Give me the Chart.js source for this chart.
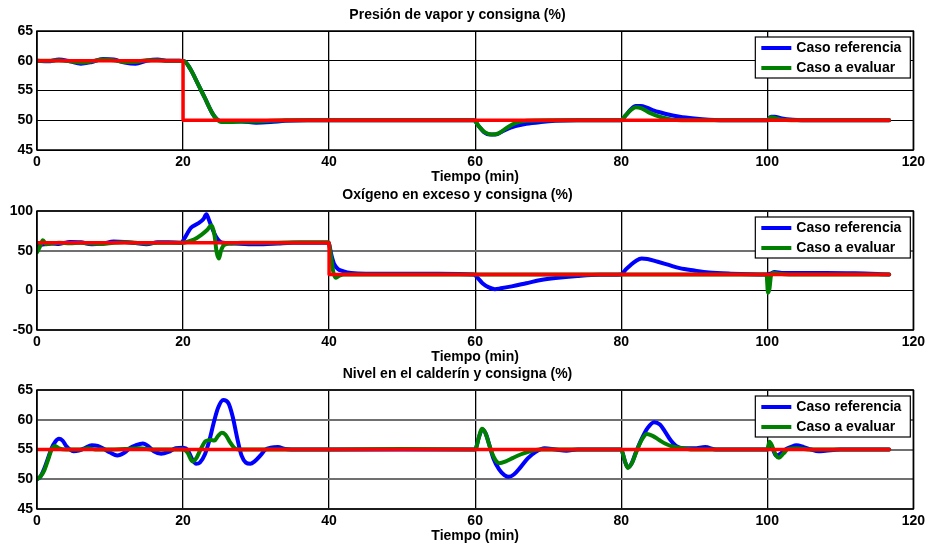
<!DOCTYPE html>
<html><head><meta charset="utf-8">
<script src="https://cdn.jsdelivr.net/npm/chart.js@4.4.0/dist/chart.umd.min.js"></script>
<style>
html,body{margin:0;padding:0;background:#fff;}
#wrap{position:relative;width:929px;height:544px;overflow:hidden;background:#fff;}
canvas{position:absolute;left:0;}
</style></head><body>
<div id="wrap">
<canvas id="c1" width="929" height="195" style="top:0px"></canvas>
<canvas id="c2" width="929" height="195" style="top:180px"></canvas>
<canvas id="c3" width="929" height="195" style="top:359px"></canvas>
</div>
<script>
// ---------- tick labels ----------
const xTicks = [0, 20, 40, 60, 80, 100, 120];
const p1Ticks = [45, 50, 55, 60, 65];
const p2Ticks = [-50, 0, 50, 100];
const p3Ticks = [45, 50, 55, 60, 65];
const seriesNames = ['Caso referencia', 'Caso a evaluar'];
const xLabel = 'Tiempo (min)';
const titles = ['Presión de vapor y consigna (%)', 'Oxígeno en exceso y consigna (%)', 'Nivel en el calderín y consigna (%)'];

// ---------- Panel 1: presión de vapor ----------
const p1SetT = [0, 20, 20, 116.7];
const p1SetY = [60, 60, 50, 50];
const p1RefT = [0, 1.5, 3, 4.5, 6, 7.5, 9, 10.5, 12, 13.5, 15, 16.5, 18, 19.5, 20.2, 21, 22, 23, 24, 24.6, 25.3, 26.5, 28, 30, 32, 34, 37, 40, 45, 50, 55, 59.8, 60.5, 61.2, 62, 62.8, 64, 65.5, 67, 69, 71, 74, 78, 80, 80.6, 81.3, 82, 82.7, 83.5, 84.5, 86, 88, 90, 92, 95, 100, 100.5, 101, 102, 103.5, 106, 110, 116.7];
const p1RefY = [60, 59.9, 60.2, 59.9, 59.5, 59.8, 60.3, 60.2, 59.7, 59.5, 60, 60.2, 60, 60, 59.9, 58.6, 56.2, 53.7, 51.2, 50.2, 49.8, 49.8, 49.8, 49.6, 49.7, 49.9, 50, 50, 50, 50, 50, 50, 49, 48, 47.6, 47.6, 48.3, 49, 49.4, 49.7, 49.9, 50, 50, 50, 50.8, 51.8, 52.4, 52.4, 52.1, 51.6, 51.1, 50.6, 50.3, 50.1, 50, 50, 50.6, 50.6, 50.3, 50.1, 50, 50, 50];
const p1EvaT = [0, 1.5, 3, 4.5, 6, 7.5, 9, 10.5, 12, 13.5, 15, 16.5, 18, 19.5, 20.2, 21, 22, 23, 24, 24.6, 25.3, 26.5, 28, 30, 34, 40, 50, 59.8, 60.5, 61.3, 62.3, 63.2, 64.3, 65.5, 67, 70, 80, 80.6, 81.3, 82, 82.8, 84, 85.5, 87, 90, 100, 100.5, 101, 102, 105, 116.7];
const p1EvaY = [60, 60, 60.1, 59.9, 59.7, 59.9, 60.2, 60.1, 59.8, 59.8, 60.1, 60.1, 60, 60, 59.9, 58.6, 56.2, 53.7, 51.2, 50.2, 49.7, 49.7, 49.8, 49.8, 50, 50, 50, 50, 49, 48, 47.6, 47.8, 48.7, 49.5, 49.9, 50, 50, 50.8, 51.7, 52.2, 52, 51.2, 50.5, 50.1, 50, 50, 50.5, 50.4, 50.1, 50, 50];

// ---------- Panel 2: oxígeno en exceso ----------
const p2SetT = [0, 40, 40, 116.7];
const p2SetY = [60, 60, 20, 20];
const p2RefT = [0, 0.5, 1, 2, 3, 4.5, 6, 7.5, 9, 10.5, 12, 13.5, 15, 16.5, 18, 19.8, 20.1, 20.6, 21.1, 22, 22.8, 23.2, 23.5, 24, 24.5, 25, 25.5, 27, 29, 31, 33, 35, 37, 39.9, 40.3, 40.7, 41.2, 42, 43, 45, 50, 55, 59.8, 60.3, 61, 61.8, 62.7, 63.5, 65, 67, 69, 71, 74, 77, 80, 80.6, 81.3, 82, 82.8, 83.6, 85, 86.5, 88, 90, 92, 95, 100, 100.4, 101, 102, 104, 108, 112, 116.7];
const p2RefY = [55, 57, 58, 59, 58.5, 61, 60.5, 58, 59, 61.5, 61, 59.5, 58, 60.5, 60.5, 60, 64, 72, 79, 84, 90, 96, 90, 78, 68, 62, 60, 59, 58, 58, 59, 60, 60, 60, 45, 33, 27, 24, 22, 21, 21, 21, 20, 16, 9, 4, 1.5, 2.5, 5, 9, 13, 15.5, 18, 19.5, 20, 26, 32, 37, 40, 39.5, 36, 32, 28, 25, 22.5, 21, 20, 21, 23, 22, 22, 22, 21.5, 20];
const p2EvaT = [0, 0.4, 0.8, 1.3, 2, 3, 4.5, 6, 7.5, 9, 10.5, 12, 13.5, 15, 16.5, 18, 19.8, 20.5, 21.5, 22.5, 23.3, 23.9, 24.3, 24.6, 24.9, 25.2, 25.6, 26.5, 28, 32, 36, 39.9, 40.3, 40.6, 40.9, 41.3, 42, 45, 59.8, 65, 80, 90, 99.9, 100.1, 100.3, 100.5, 100.8, 101.5, 103, 116.7];
const p2EvaY = [48, 55, 63, 58, 59, 60, 59.5, 60, 59, 58.5, 60, 60.5, 60, 59, 60, 60, 60, 61, 64, 70, 76, 82, 70, 48, 40, 50, 57, 59, 60, 60, 60.5, 60.5, 40, 22, 16, 18, 20, 20, 20, 20, 20, 20, 20, -3, 2, 18, 22, 21, 20, 20];

// ---------- Panel 3: nivel en el calderín ----------
const p3SetT = [0, 116.7];
const p3SetY = [55, 55];
const p3RefT = [0, 0.5, 1, 1.5, 2, 2.5, 3, 3.5, 4, 4.5, 5, 5.7, 6.5, 7.5, 8.3, 9, 10, 11, 12, 12.8, 13.5, 14.5, 15.3, 16, 17, 18, 19, 20, 20.6, 21.2, 21.8, 22.3, 23, 23.6, 24.2, 24.8, 25.5, 26.2, 26.8, 27.4, 28, 28.6, 29.2, 29.8, 30.6, 31.3, 32, 33, 34, 36, 40, 50, 60, 60.5, 61, 61.5, 62, 62.5, 63.3, 64, 64.6, 65.3, 66.2, 67.2, 68.3, 69.5, 71, 72.5, 74, 80, 80.5, 80.9, 81.4, 82, 82.8, 83.6, 84.5, 85.3, 86, 86.8, 87.5, 88.5, 90, 91.5, 93, 96, 100, 100.3, 100.7, 101.2, 101.7, 102.5, 103.2, 104, 105, 106, 107, 108, 110, 116.7];
const p3RefY = [50, 50.5, 51.8, 53.5, 55.2, 56.3, 56.8, 56.5, 55.6, 55, 54.7, 54.8, 55.2, 55.7, 55.6, 55.2, 54.5, 54, 54.5, 55.3, 55.7, 56, 55.5, 54.7, 54.3, 54.6, 55.2, 55.3, 55, 53.5, 52.6, 52.8, 54.2, 56.5, 59.5, 62, 63.3, 62.8, 60.5, 57, 54, 52.8, 52.6, 53, 54, 55, 55.3, 55.4, 55.1, 55, 55, 55, 55, 57, 58.4, 57.5, 55.5, 53.5, 51.6, 50.7, 50.4, 50.8, 52, 53.5, 54.6, 55.2, 55, 54.8, 55, 55, 53, 52, 52.6, 54.5, 56.8, 58.6, 59.6, 59.2, 58, 56.5, 55.6, 55.2, 55.2, 55.4, 55, 55, 55, 55.8, 55.2, 54, 54.2, 55, 55.4, 55.7, 55.4, 55, 54.7, 54.8, 55, 55];
const p3EvaT = [0, 0.5, 1, 1.5, 2, 2.5, 3, 4, 5, 6, 7, 8, 10, 12, 14, 16, 18, 20, 20.6, 21.3, 21.8, 22.4, 23.1, 23.8, 24.3, 24.8, 25.3, 25.8, 26.4, 27, 27.6, 30, 40, 50, 60, 60.5, 60.9, 61.4, 62, 62.6, 63.3, 64.2, 65.2, 66.3, 67.5, 68.8, 70, 80, 80.4, 80.9, 81.5, 82.2, 82.9, 83.5, 84.3, 85.2, 86, 87, 88.5, 90, 100, 100.3, 100.7, 101.2, 101.6, 102.2, 102.9, 104, 106, 116.7];
const p3EvaY = [50, 50.5, 51.5, 53.2, 55, 55.6, 55.2, 55, 55, 55, 55.2, 55, 55, 55.1, 55.2, 55, 55, 55, 54.5, 53, 53.5, 55, 56.4, 56.6, 56.5, 57.3, 57.8, 57.5, 56.3, 55.3, 55, 55, 55, 55.1, 55, 57, 58.5, 57.8, 55.5, 53.6, 52.7, 53, 53.6, 54.2, 54.7, 55, 55, 55, 53.5, 51.9, 52.8, 55, 56.8, 57.6, 57.3, 56.6, 56, 55.5, 55.2, 55, 55, 56.3, 55.5, 54, 53.6, 54.3, 55.1, 55.2, 55, 55];

// ---------- helpers ----------
Chart.defaults.font.family = "'Liberation Sans', Arial, Helvetica, sans-serif";
Chart.defaults.color = '#000';
const pts = (t, y) => t.map((x, i) => ({x: x, y: y[i]}));
const BLUE = '#0000ff', GREEN = '#008000', RED = '#ff0000';

const framePlugin = {
  id: 'frame',
  afterDraw(chart) {
    const {ctx, chartArea: a} = chart;
    ctx.save();
    ctx.strokeStyle = '#000';
    ctx.lineWidth = 1.5;
    ctx.strokeRect(a.left, a.top, a.right - a.left, a.bottom - a.top);
    // legend box
    const bw = 155, bh = 41;
    const bx = a.right - 158, by = a.top + 6;
    ctx.fillStyle = '#fff';
    ctx.fillRect(bx, by, bw, bh);
    ctx.lineWidth = 1.2;
    ctx.strokeRect(bx, by, bw, bh);
    const items = chart.data.datasets.filter(d => d.inLegend);
    items.sort((p, q) => p.legendRow - q.legendRow);
    ctx.font = "bold 14px 'Liberation Sans', Arial, sans-serif";
    ctx.textBaseline = 'middle';
    items.forEach((d, i) => {
      const yy = by + 11 + i * 20;
      ctx.strokeStyle = d.borderColor;
      ctx.lineWidth = 4;
      ctx.beginPath();
      ctx.moveTo(bx + 6, yy);
      ctx.lineTo(bx + 36, yy);
      ctx.stroke();
      ctx.fillStyle = '#000';
      ctx.fillText(d.label, bx + 41, yy + 0.5);
    });
    ctx.restore();
  }
};

// gridStyle: 'black' => thin black horizontal grid; 'gray' => thicker gray grid (except the zero line)
function makePanel(id, title, yMin, yMax, yTicks, set, ref, eva, gridStyle) {
  const tickFont = {size: 14, weight: 'bold'};
  const yGridColor = (c) => (gridStyle === 'black' || (c.tick && c.tick.value === 0)) ? '#000' : '#707070';
  const yGridWidth = (c) => (gridStyle === 'black' || (c.tick && c.tick.value === 0)) ? 1 : 2;
  new Chart(document.getElementById(id), {
    type: 'line',
    data: {
      datasets: [
        {label: 'Consigna', data: pts(set[0], set[1]), borderColor: RED, borderWidth: 3.5, tension: 0, order: 0},
        {label: seriesNames[1], data: pts(eva[0], eva[1]), borderColor: GREEN, borderWidth: 4, cubicInterpolationMode: 'monotone', order: 1, inLegend: true, legendRow: 1},
        {label: seriesNames[0], data: pts(ref[0], ref[1]), borderColor: BLUE, borderWidth: 4, cubicInterpolationMode: 'monotone', order: 2, inLegend: true, legendRow: 0}
      ]
    },
    options: {
      responsive: false,
      animation: false,
      devicePixelRatio: 1,
      layout: {padding: {left: 0, right: 14, top: 0, bottom: 9}},
      elements: {point: {radius: 0}, line: {borderJoinStyle: 'round', borderCapStyle: 'round'}},
      plugins: {
        legend: {display: false},
        tooltip: {enabled: false},
        title: {display: true, text: title, color: '#000', font: {size: 14, weight: 'bold'}, padding: {top: 7, bottom: 7.2}}
      },
      scales: {
        x: {
          type: 'linear', min: xTicks[0], max: xTicks[xTicks.length - 1],
          afterBuildTicks(s) { s.ticks = xTicks.map(v => ({value: v})); },
          afterFit(s) { s.height = 36; },
          grid: {color: '#000', lineWidth: 1.3, drawTicks: false},
          border: {display: false},
          ticks: {color: '#000', font: tickFont, padding: 4, maxRotation: 0, autoSkip: false},
          title: {display: true, text: xLabel, color: '#000', font: {size: 14, weight: 'bold'}, padding: 0}
        },
        y: {
          type: 'linear', min: yMin, max: yMax,
          afterBuildTicks(s) { s.ticks = yTicks.map(v => ({value: v})); },
          afterFit(s) { s.width = 37; },
          grid: {color: yGridColor, lineWidth: yGridWidth, drawTicks: false},
          border: {display: false},
          ticks: {color: '#000', font: tickFont, padding: 4, autoSkip: false}
        }
      }
    },
    plugins: [framePlugin]
  });
}

makePanel('c1', titles[0], 45, 65, p1Ticks, [p1SetT, p1SetY], [p1RefT, p1RefY], [p1EvaT, p1EvaY], 'black');
makePanel('c2', titles[1], -50, 100, p2Ticks, [p2SetT, p2SetY], [p2RefT, p2RefY], [p2EvaT, p2EvaY], 'gray');
makePanel('c3', titles[2], 45, 65, p3Ticks, [p3SetT, p3SetY], [p3RefT, p3RefY], [p3EvaT, p3EvaY], 'gray');
</script>
</body></html>
